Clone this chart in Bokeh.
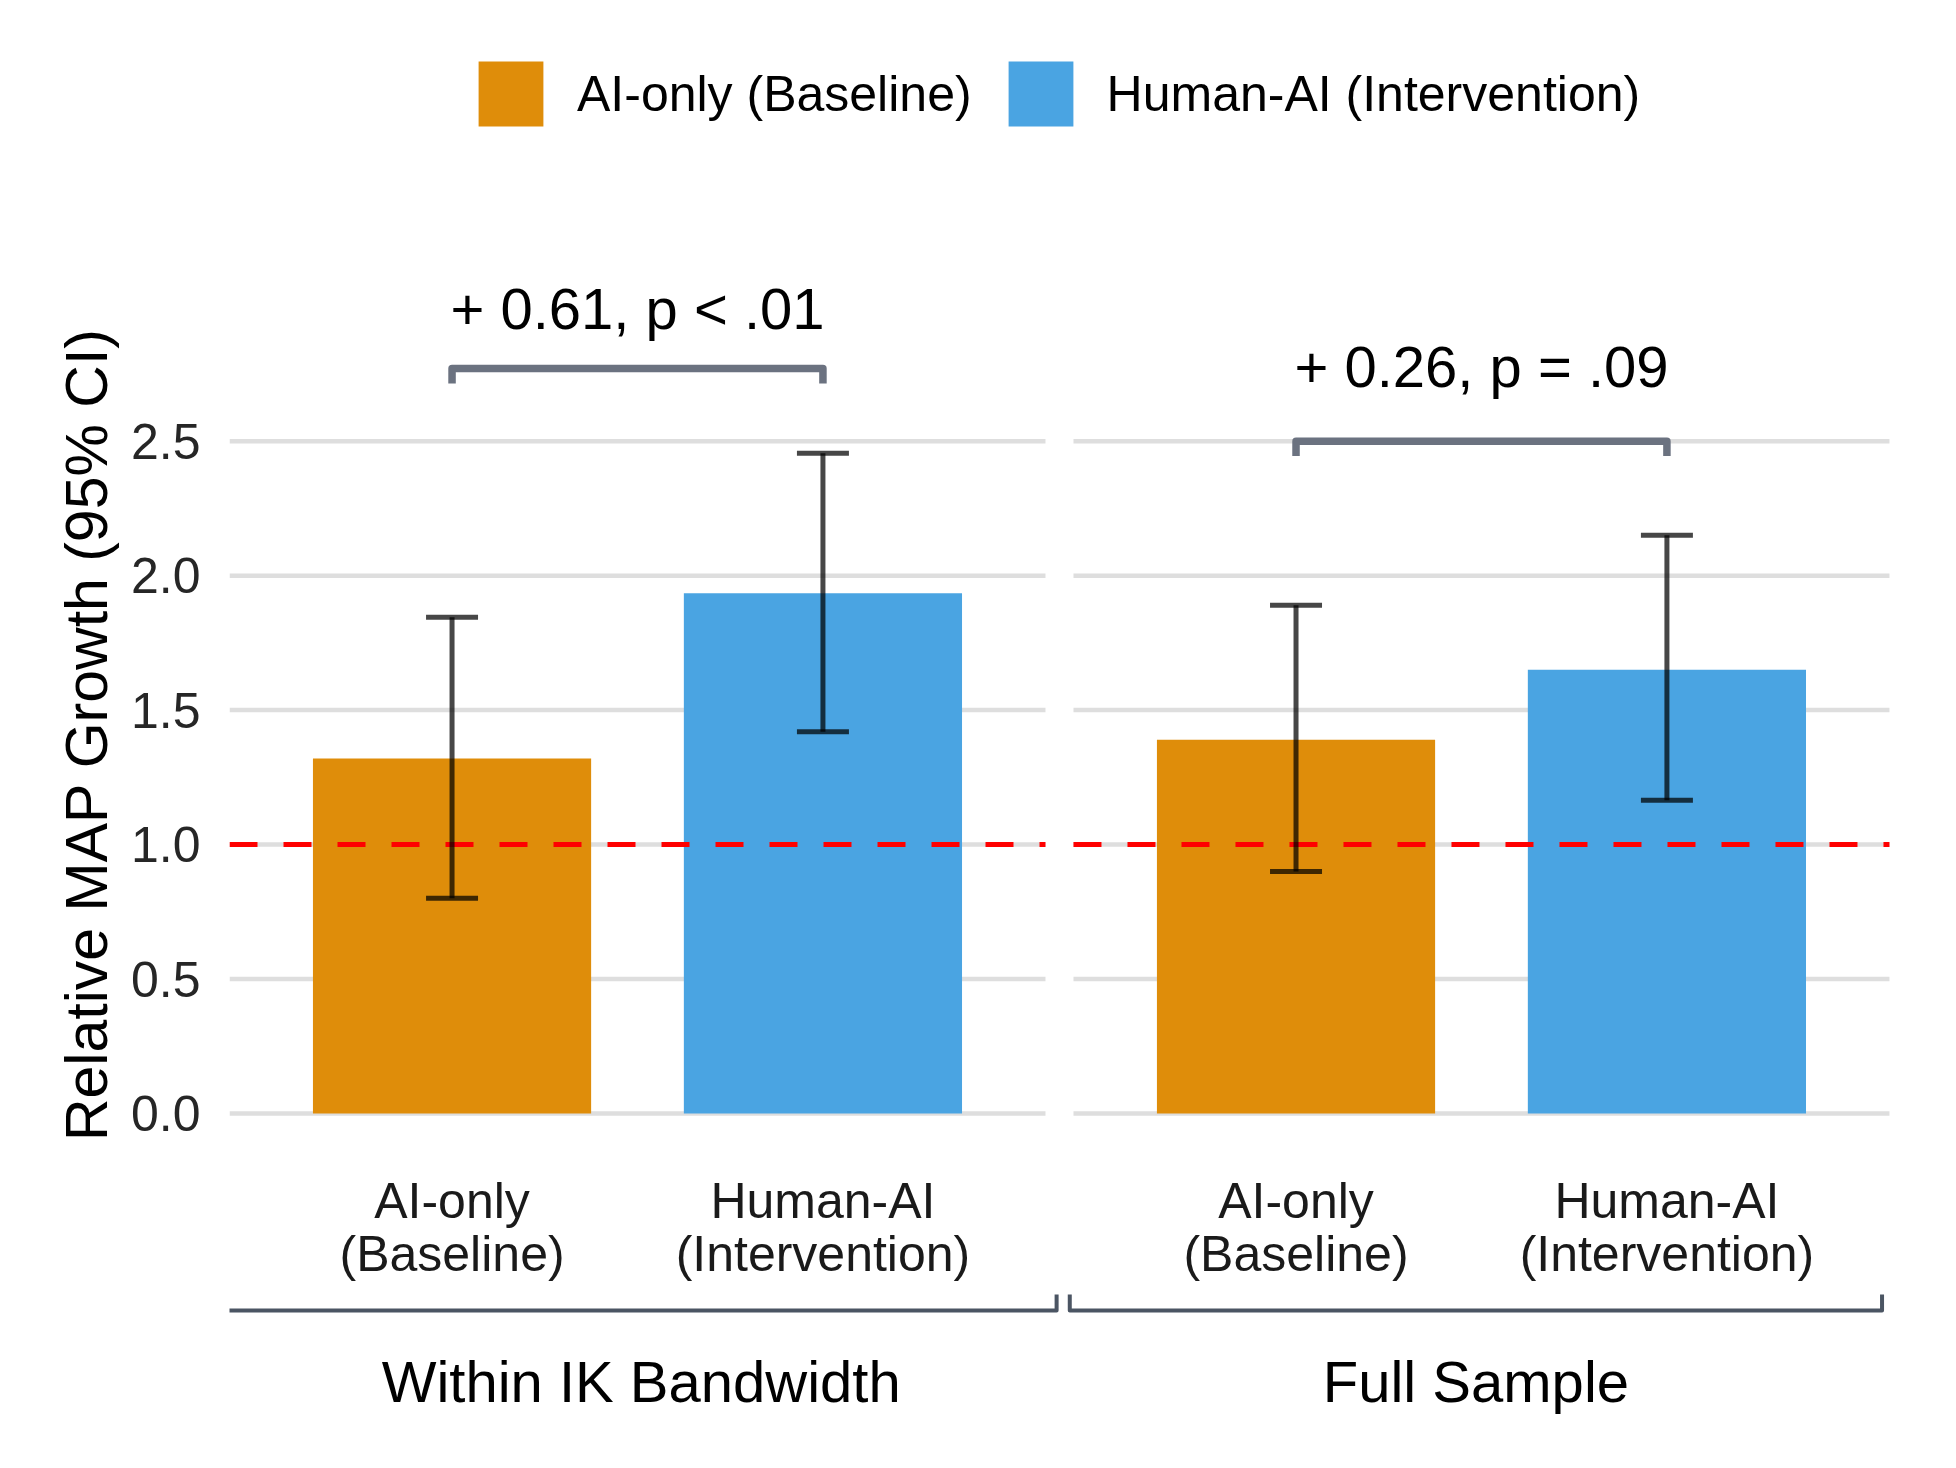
from bokeh.plotting import figure
from bokeh.models import (Range1d, FixedTicker, NumeralTickFormatter, ColumnDataSource,
                          Whisker, TeeHead, Legend, LegendItem)
from bokeh.core.properties import value
from bokeh.embed import file_html
from bokeh.resources import INLINE

# ---------------- data ----------------
groups = ["Within IK Bandwidth", "Full Sample"]
conditions = ["AI-only (Baseline)", "Human-AI (Intervention)"]
tick_labels = ["AI-only\n(Baseline)", "Human-AI\n(Intervention)"]

baseline_mean = [1.32, 1.39]
baseline_lower = [0.80, 0.90]
baseline_upper = [1.845, 1.89]

intervention_mean = [1.935, 1.65]
intervention_lower = [1.42, 1.165]
intervention_upper = [2.455, 2.15]

diff_labels = ["+ 0.61, p < .01", "+ 0.26, p = .09"]
bracket_y = [2.77, 2.50]
diff_label_y = [2.993, 2.777]

y_ticks = [0.0, 0.5, 1.0, 1.5, 2.0, 2.5]
reference_level = 1.0

colors = ["#DF8D0A", "#4AA4E2"]

# ---------------- layout constants ----------------
W, H = 1956, 1468
LEFT = 229
PX_X = 370.9
PX_Y = 268.92
ZERO_ROW = 1113
PANEL_LO, PANEL_HI = 0.4, 2.6
GAP = 28 / PX_X
FONT = value("Liberation Sans")
GROUP_BRACKET_PAD_LO = [0.01, 0.01]
GROUP_BRACKET_PAD_HI = [0.03, -0.02]


def y_of_row(row):
    return (ZERO_ROW - row) / PX_Y


offsets = [i * (PANEL_HI - PANEL_LO + GAP) for i in range(len(groups))]

p = figure(width=W, height=H, output_backend="svg", toolbar_location=None,
           x_range=Range1d(PANEL_LO, PANEL_LO + (W - LEFT) / PX_X),
           y_range=Range1d(y_of_row(H), y_of_row(0)),
           min_border_left=LEFT, min_border_right=0, min_border_top=0, min_border_bottom=0)
p.outline_line_color = None
p.xgrid.visible = False
p.ygrid.visible = False
p.xaxis.visible = False
p.background_fill_color = "white"
p.border_fill_color = "white"

# gridlines per panel
gx0, gx1, gy = [], [], []
for off in offsets:
    for t in y_ticks:
        gx0.append(off + PANEL_LO)
        gx1.append(off + PANEL_HI)
        gy.append(t)
p.segment(x0=gx0, y0=gy, x1=gx1, y1=gy, line_color="#DEDEDE", line_width=4.5)

# bars
means = [baseline_mean, intervention_mean]
lowers = [baseline_lower, intervention_lower]
uppers = [baseline_upper, intervention_upper]
bar_renderers = []
sources = []
for j in range(len(conditions)):
    xs = [off + j + 1 for off in offsets]
    src = ColumnDataSource(dict(x=xs, top=means[j], lower=lowers[j], upper=uppers[j]))
    r = p.vbar(x="x", top="top", bottom=0, width=0.75, source=src,
               fill_color=colors[j], line_color=None)
    bar_renderers.append(r)
    sources.append(src)

# reference dashed line per panel
p.segment(x0=[off + PANEL_LO for off in offsets], y0=[reference_level] * len(offsets),
          x1=[off + PANEL_HI for off in offsets], y1=[reference_level] * len(offsets),
          line_color="#FF0000", line_width=5, line_dash="28 26")

# error bars
for j in range(len(conditions)):
    w = Whisker(source=sources[j], base="x", upper="upper", lower="lower",
                line_color="black", line_alpha=0.72, line_width=5, level="annotation",
                upper_head=TeeHead(size=52, line_color="black", line_alpha=0.72, line_width=5),
                lower_head=TeeHead(size=52, line_color="black", line_alpha=0.72, line_width=5))
    p.add_layout(w)

# significance brackets
LEG = 0.055
bxs, bys = [], []
for off, by in zip(offsets, bracket_y):
    x1, x2 = off + 1, off + 2
    bxs.append([x1, x1, x2, x2])
    bys.append([by - LEG, by, by, by - LEG])
p.multi_line(xs=bxs, ys=bys, line_color="#6B7280", line_width=7.5, line_join="round")
p.text(x=[off + 1.5 for off in offsets], y=diff_label_y, text=diff_labels,
       text_align="center", text_baseline="alphabetic", text_font=FONT,
       text_font_size="58px", text_color="black")

# category labels
cx, ctext = [], []
for off in offsets:
    for j in range(len(conditions)):
        cx.append(off + j + 1)
        ctext.append(tick_labels[j])
p.text(x=cx, y=[y_of_row(1227)] * len(cx), text=ctext, text_align="center",
       text_baseline="middle", text_line_height=0.95, text_font=FONT,
       text_font_size="50px", text_color="#1a1a1a")

# group brackets and labels
gxs, gys, gmid = [], [], []
for off, plo, phi in zip(offsets, GROUP_BRACKET_PAD_LO, GROUP_BRACKET_PAD_HI):
    a, b = off + PANEL_LO - plo, off + PANEL_HI + phi
    gxs.append([a, a, b, b])
    gys.append([y_of_row(1294), y_of_row(1310), y_of_row(1310), y_of_row(1294)])
    gmid.append((a + b) / 2)
p.multi_line(xs=gxs, ys=gys, line_color="#4B5563", line_width=4, line_join="round")
p.text(x=gmid, y=[y_of_row(1381)] * len(offsets), text=groups,
       text_align="center", text_baseline="alphabetic", text_font=FONT,
       text_font_size="58px", text_color="black")

# y axis
ax = p.yaxis[0]
ax.ticker = FixedTicker(ticks=y_ticks)
ax.formatter = NumeralTickFormatter(format="0.0")
ax.axis_line_color = None
ax.major_tick_line_color = None
ax.minor_tick_line_color = None
ax.major_tick_out = 0
ax.major_tick_in = 0
ax.major_label_standoff = 29
ax.major_label_text_font = "Liberation Sans"
ax.major_label_text_font_size = "50px"
ax.major_label_text_color = "#262626"
ax.axis_label = "Relative MAP Growth (95% CI)"
ax.axis_label_text_font = "Liberation Sans"
ax.axis_label_text_font_size = "59px"
ax.axis_label_text_font_style = "normal"
ax.axis_label_text_color = "black"
ax.axis_label_standoff = 8

# legend (Bokeh insets area glyphs by 10% on each side)
GLYPH = 81
legend = Legend(items=[LegendItem(label=conditions[j], renderers=[bar_renderers[j]])
                       for j in range(len(conditions))],
                orientation="horizontal",
                location=(int(round(478 - 0.1 * GLYPH - LEFT)), int(round(H - (93.4 + GLYPH / 2)))),
                glyph_width=GLYPH, glyph_height=GLYPH, label_standoff=26, spacing=28,
                padding=0, margin=0, border_line_alpha=0, background_fill_alpha=0,
                label_text_font="Liberation Sans", label_text_font_size="50px",
                label_text_color="black")
p.add_layout(legend)

open("out.html", "w").write(file_html(p, INLINE))
